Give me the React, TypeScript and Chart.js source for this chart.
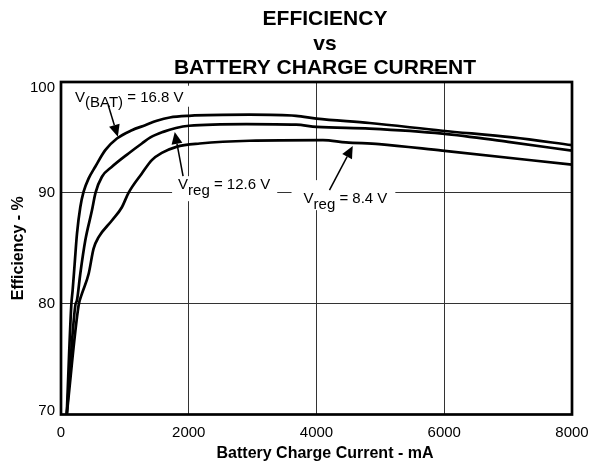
import React, { useEffect, useRef } from 'react';
import { Chart, registerables } from 'chart.js';

Chart.register(...registerables);

const FONT = '"Liberation Sans", Arial, Helvetica, sans-serif';

const titleLines = ['EFFICIENCY', 'vs', 'BATTERY CHARGE CURRENT'];
const xTitle = 'Battery Charge Current - mA';
const yTitle = 'Efficiency - %';
const xTicks = [0, 2000, 4000, 6000, 8000];
const yTicks = [70, 80, 90, 100];

// V(BAT) = 16.8 V
const v168Current = [90, 161, 182, 214, 250, 302, 354, 433, 536, 693, 875, 1109, 1318, 1500, 1703, 2005, 2950, 3680, 4000, 4830, 5970, 7070, 8000];
const v168Eff = [70, 79.85, 81.2, 83.6, 86.3, 88.7, 90.1, 91.3, 92.35, 93.85, 94.9, 95.65, 96.1, 96.5, 96.8, 96.95, 97.05, 96.95, 96.7, 96.3, 95.6, 95.0, 94.3];

// Vreg = 12.6 V
const v126Current = [90, 224, 250, 302, 380, 484, 540, 641, 797, 1057, 1266, 1400, 1600, 1800, 2005, 2900, 3680, 4000, 4830, 5970, 7000, 8000];
const v126Eff = [70, 79.85, 80.3, 82.7, 85.7, 88.4, 90.0, 91.45, 92.35, 93.55, 94.45, 95.0, 95.5, 95.85, 96.05, 96.2, 96.15, 95.95, 95.8, 95.35, 94.6, 93.8];

// Vreg = 8.4 V
const v84Current = [90, 276, 328, 433, 510, 589, 797, 953, 1057, 1266, 1422, 1578, 1807, 2172, 2950, 4100, 4460, 4980, 5970, 8000];
const v84Eff = [70, 79.85, 80.9, 82.7, 84.97, 86.0, 87.5, 88.7, 90.0, 91.75, 92.95, 93.6, 94.15, 94.45, 94.7, 94.75, 94.55, 94.4, 93.8, 92.55];

// Curve labels: main letter, subscript, remainder; anchor in data units (text start, baseline)
const labelMain = ['V', 'V', 'V'];
const labelSub = ['(BAT)', 'reg', 'reg'];
const labelRest = [' = 16.8 V', ' = 12.6 V', ' = 8.4 V'];
const labelAnchorX = [219, 1833, 3797];
const labelAnchorY = [98.22, 90.33, 89.07];

// Arrows (data units): tail -> tip
const arrowTailX = [739, 1911, 4203];
const arrowTailY = [97.92, 91.5, 90.24];
const arrowTipX = [890, 1781, 4567];
const arrowTipY = [95.06, 95.5, 94.22];

const toPoints = (xs: number[], ys: number[]) => xs.map((x, i) => ({ x, y: ys[i] }));

// white masks around the labels (pixel paddings: left, top, right, bottom relative to text)
const maskPad = [
  [5, 16, 6, 5],
  [6, 13, 7, 12],
  [12, 23, 8, 7],
];

const annotationPlugin = {
  id: 'curveAnnotations',
  beforeDatasetsDraw(chart: any) {
    const { ctx, scales } = chart;
    const xs = scales.x;
    const ys = scales.y;
    ctx.save();
    ctx.font = `15px ${FONT}`;
    for (let i = 0; i < labelMain.length; i++) {
      const x0 = xs.getPixelForValue(labelAnchorX[i]);
      const b = ys.getPixelForValue(labelAnchorY[i]);
      const w =
        ctx.measureText(labelMain[i]).width +
        ctx.measureText(labelSub[i]).width +
        ctx.measureText(labelRest[i]).width;
      const p = maskPad[i];
      ctx.fillStyle = '#ffffff';
      ctx.fillRect(x0 - p[0], b - p[1], w + p[0] + p[2], p[1] + p[3]);
    }
    ctx.restore();
  },
  afterDatasetsDraw(chart: any) {
    const { ctx, scales, chartArea } = chart;
    const xs = scales.x;
    const ys = scales.y;
    ctx.save();
    ctx.fillStyle = '#000';
    ctx.strokeStyle = '#000';
    ctx.font = `15px ${FONT}`;
    ctx.textBaseline = 'alphabetic';
    ctx.textAlign = 'left';
    for (let i = 0; i < labelMain.length; i++) {
      let x = xs.getPixelForValue(labelAnchorX[i]);
      const b = ys.getPixelForValue(labelAnchorY[i]);
      ctx.fillText(labelMain[i], x, b);
      x += ctx.measureText(labelMain[i]).width;
      ctx.fillText(labelSub[i], x, b + 5.5);
      x += ctx.measureText(labelSub[i]).width;
      ctx.fillText(labelRest[i], x, b);
    }
    // arrows
    for (let i = 0; i < arrowTipX.length; i++) {
      const tx = xs.getPixelForValue(arrowTailX[i]);
      const ty = ys.getPixelForValue(arrowTailY[i]);
      const hx = xs.getPixelForValue(arrowTipX[i]);
      const hy = ys.getPixelForValue(arrowTipY[i]);
      const ang = Math.atan2(hy - ty, hx - tx);
      const L = 12;
      const W = 5.5;
      const bx = hx - L * Math.cos(ang);
      const by = hy - L * Math.sin(ang);
      ctx.lineWidth = 1.5;
      ctx.beginPath();
      ctx.moveTo(tx, ty);
      ctx.lineTo(bx, by);
      ctx.stroke();
      ctx.beginPath();
      ctx.moveTo(hx, hy);
      ctx.lineTo(bx + W * Math.sin(ang), by - W * Math.cos(ang));
      ctx.lineTo(bx - W * Math.sin(ang), by + W * Math.cos(ang));
      ctx.closePath();
      ctx.fill();
    }
    // plot frame
    ctx.lineWidth = 2.7;
    ctx.strokeRect(chartArea.left, chartArea.top, chartArea.right - chartArea.left, chartArea.bottom - chartArea.top);

    // y tick labels (kept inside the frame's vertical span like the original)
    ctx.font = `15px ${FONT}`;
    ctx.textAlign = 'right';
    ctx.textBaseline = 'middle';
    for (const v of yTicks) {
      let py = ys.getPixelForValue(v);
      py = Math.min(Math.max(py, chartArea.top + 5), chartArea.bottom - 4);
      ctx.fillText(String(v), chartArea.left - 6, py + 0.5);
    }

    // chart title, centred like the original
    const cx = 325;
    ctx.textAlign = 'center';
    ctx.textBaseline = 'alphabetic';
    ctx.font = `bold 21px ${FONT}`;
    const baselines = [24.5, 49.5, 73.5];
    titleLines.forEach((t, i) => ctx.fillText(t, cx, baselines[i]));

    // x axis title
    ctx.font = `bold 16px ${FONT}`;
    ctx.fillText(xTitle, cx, 457.5);
    ctx.restore();
  },
};

const lineStyle = {
  borderColor: '#000',
  backgroundColor: '#000',
  borderWidth: 2.7,
  pointRadius: 0,
  fill: false,
  cubicInterpolationMode: 'monotone' as const,
};

export default function App() {
  const canvasRef = useRef<HTMLCanvasElement | null>(null);

  useEffect(() => {
    if (!canvasRef.current) return;
    const chart = new Chart(canvasRef.current, {
      type: 'line',
      data: {
        datasets: [
          { label: 'V(BAT) = 16.8 V', data: toPoints(v168Current, v168Eff), ...lineStyle },
          { label: 'Vreg = 12.6 V', data: toPoints(v126Current, v126Eff), ...lineStyle },
          { label: 'Vreg = 8.4 V', data: toPoints(v84Current, v84Eff), ...lineStyle },
        ],
      },
      options: {
        responsive: false,
        animation: false,
        devicePixelRatio: 1,
        layout: { padding: { left: 0, right: 18, top: 82, bottom: 0 } },
        plugins: {
          legend: { display: false },
          tooltip: { enabled: false },
          title: { display: false },
        },
        scales: {
          x: {
            type: 'linear',
            min: 0,
            max: 8000,
            afterBuildTicks: (s: any) => {
              s.ticks = xTicks.map((v) => ({ value: v }));
            },
            afterFit: (s: any) => {
              s.height = 55.5;
              s.paddingLeft = 0;
              s.paddingRight = 0;
            },
            grid: { color: '#333', lineWidth: 1, drawTicks: false },
            border: { display: false },
            ticks: {
              color: '#000',
              font: { family: FONT, size: 15 },
              padding: 9,
              maxRotation: 0,
              callback: (v: any) => String(v),
            },
          },
          y: {
            type: 'linear',
            min: 70,
            max: 100,
            afterBuildTicks: (s: any) => {
              s.ticks = yTicks.map((v) => ({ value: v }));
            },
            afterFit: (s: any) => {
              s.width = 61;
              s.paddingTop = 0;
              s.paddingBottom = 0;
            },
            grid: { color: '#333', lineWidth: 1, drawTicks: false },
            border: { display: false },
            ticks: { display: false },
            title: {
              display: true,
              text: yTitle,
              color: '#000',
              font: { family: FONT, size: 16, weight: 'bold' },
              padding: { top: 9, bottom: 0 },
            },
          },
        },
      },
      plugins: [annotationPlugin],
    });
    return () => chart.destroy();
  }, []);

  return (
    <div style={{ position: 'absolute', left: 0, top: 0, width: 590, height: 470, background: '#fff' }}>
      <canvas ref={canvasRef} width={590} height={470} style={{ display: 'block' }} />
    </div>
  );
}
